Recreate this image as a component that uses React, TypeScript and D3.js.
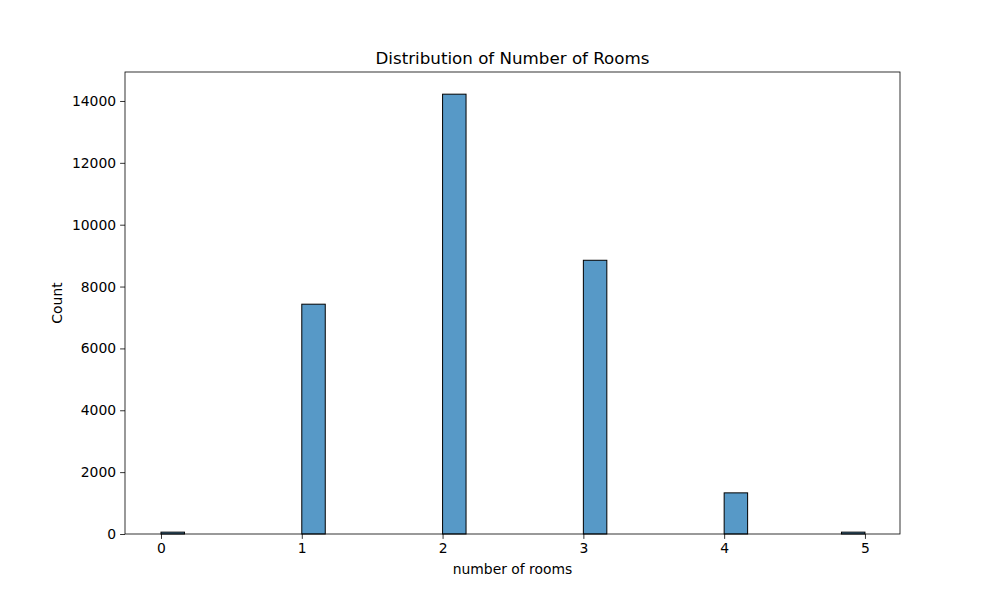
import { useEffect, useRef } from 'react'
import * as d3 from 'd3'

// histogram bins: start of each non-empty bin (width 1/6) and its count
const binStarts = [0, 1, 2, 3, 4, 29 / 6]
const counts = [60, 7430, 14220, 8850, 1330, 60]
const binWidth = 1 / 6
const xTicks = [0, 1, 2, 3, 4, 5]
const yTicks = [0, 2000, 4000, 6000, 8000, 10000, 12000, 14000]

export default function App() {
  const svgRef = useRef<SVGSVGElement>(null)

  useEffect(() => {
    if (!svgRef.current) return
    const svg = d3.select(svgRef.current)
    svg.selectAll('*').remove()

    const left = 125, right = 900, top = 72, bottom = 534
    const x = d3.scaleLinear().domain([-0.2557, 5.249]).range([left, right])
    const y = d3.scaleLinear().domain([0, 14937]).range([bottom, top])
    const font = 'DejaVu Sans, sans-serif'

    svg.append('g')
      .selectAll('rect')
      .data(binStarts)
      .join('rect')
      .attr('x', (d) => x(d))
      .attr('width', (d) => x(d + binWidth) - x(d))
      .attr('y', (_, i) => y(counts[i]))
      .attr('height', (_, i) => bottom - y(counts[i]))
      .attr('fill', 'rgb(87,153,199)')
      .attr('stroke', 'black')
      .attr('stroke-width', 1)

    const xAxis = svg.append('g')
      .attr('transform', `translate(0,${bottom})`)
      .call(d3.axisBottom(x).tickValues(xTicks).tickFormat(d3.format('d')).tickSize(4.9).tickPadding(4))
    const yAxis = svg.append('g')
      .attr('transform', `translate(${left},0)`)
      .call(d3.axisLeft(y).tickValues(yTicks).tickFormat(d3.format('d')).tickSize(4.9).tickPadding(4))
    for (const a of [xAxis, yAxis]) {
      a.select('.domain').remove()
      a.selectAll('text').attr('font-size', 13.9).attr('font-family', font).attr('fill', 'black')
      a.selectAll('line').attr('stroke', 'black').attr('stroke-width', 0.8)
    }

    svg.append('rect')
      .attr('x', left).attr('y', top)
      .attr('width', right - left).attr('height', bottom - top)
      .attr('fill', 'none').attr('stroke', 'black').attr('stroke-width', 0.8)

    svg.append('text')
      .attr('x', (left + right) / 2).attr('y', 64)
      .attr('text-anchor', 'middle').attr('font-size', 16.7).attr('font-family', font)
      .text('Distribution of Number of Rooms')
    svg.append('text')
      .attr('x', (left + right) / 2).attr('y', 574)
      .attr('text-anchor', 'middle').attr('font-size', 13.9).attr('font-family', font)
      .text('number of rooms')
    svg.append('text')
      .attr('transform', `translate(62,${(top + bottom) / 2}) rotate(-90)`)
      .attr('text-anchor', 'middle').attr('font-size', 13.9).attr('font-family', font)
      .text('Count')
  }, [])

  return (
    <svg ref={svgRef} width={1000} height={600}
      style={{ position: 'absolute', left: 0, top: 0, background: 'white' }} />
  )
}
